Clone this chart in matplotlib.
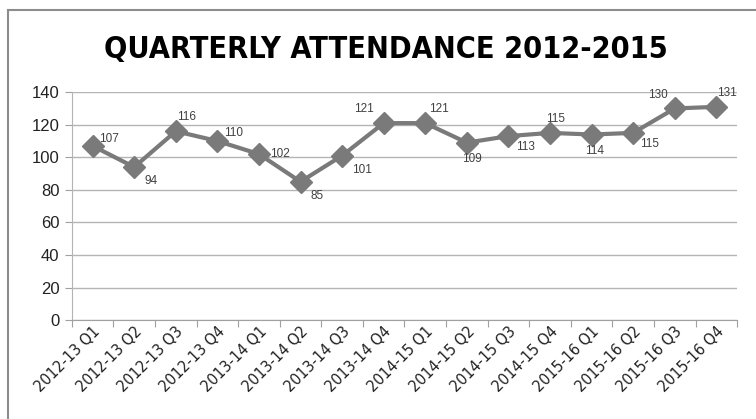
import matplotlib
matplotlib.use("Agg")
import matplotlib.pyplot as plt
from matplotlib.patches import Rectangle

# donnees
quarters = ["2012-13 Q1", "2012-13 Q2", "2012-13 Q3", "2012-13 Q4",
            "2013-14 Q1", "2013-14 Q2", "2013-14 Q3", "2013-14 Q4",
            "2014-15 Q1", "2014-15 Q2", "2014-15 Q3", "2014-15 Q4",
            "2015-16 Q1", "2015-16 Q2", "2015-16 Q3", "2015-16 Q4"]
attendance = [107, 94, 116, 110, 102, 85, 101, 121,
              121, 109, 113, 115, 114, 115, 130, 131]
# position des etiquettes (decalage en points)
label_offsets = [(12, 5), (12, -10), (8, 10), (12, 6), (15, 0), (12, -10), (14, -10), (-14, 10),
                 (10, 10), (4, -12), (12, -8), (4, 10), (2, -12), (12, -8), (-12, 10), (8, 10)]

plain = ["Liberation Sans", "DejaVu Sans"]

fig = plt.figure(figsize=(7.56, 4.19), dpi=100)
ax = fig.add_axes([0.095, 0.236, 0.88, 0.544])

# cadre exterieur
fig.patches.append(Rectangle((8 / 756, -0.1), 1.0, 1 - 10 / 419 + 0.1,
                             transform=fig.transFigure, fill=False,
                             edgecolor="#8c8c8c", linewidth=1.5))

x = list(range(len(quarters)))
ax.plot(x, attendance, color="#7a7a7a", linewidth=3, marker="D",
        markersize=11, markerfacecolor="#7a7a7a", markeredgecolor="#7a7a7a", zorder=3)

for i, v in enumerate(attendance):
    ax.annotate(str(v), (i, v), xytext=label_offsets[i], textcoords="offset points",
                ha="center", va="center", fontsize=8.5, color="#404040", family=plain)

ax.set_xlim(-0.5, len(quarters) - 0.5)
ax.set_ylim(0, 140)
ax.set_yticks(range(0, 141, 20))
ax.set_xticks([i - 0.5 for i in range(len(quarters) + 1)], minor=False)
ax.set_xticklabels([])
ax.set_xticks(x, minor=True)
ax.set_xticklabels(quarters, minor=True, rotation=45, ha="right",
                   rotation_mode="anchor", fontsize=11.5, family="DejaVu Sans",
                   fontstretch="condensed", color="#222222")
ax.tick_params(axis="x", which="minor", length=0, pad=3)
ax.tick_params(axis="x", which="major", length=5, color="#a0a0a0", direction="out")
ax.tick_params(axis="y", length=5, color="#a0a0a0", labelsize=12, pad=4)
for lab in ax.get_yticklabels():
    lab.set_family(plain)
    lab.set_color("#222222")

ax.grid(axis="y", color="#b4b4b4", linewidth=1)
ax.set_axisbelow(True)
for s in ["top", "right"]:
    ax.spines[s].set_visible(False)
ax.spines["left"].set_color("#b4b4b4")
ax.spines["bottom"].set_color("#a0a0a0")

fig.text(0.51, 0.882, "QUARTERLY ATTENDANCE 2012-2015", ha="center", va="center",
         fontsize=22, fontweight="bold", family="DejaVu Sans", fontstretch="condensed",
         color="black")

fig.savefig("out.png", dpi=100)
